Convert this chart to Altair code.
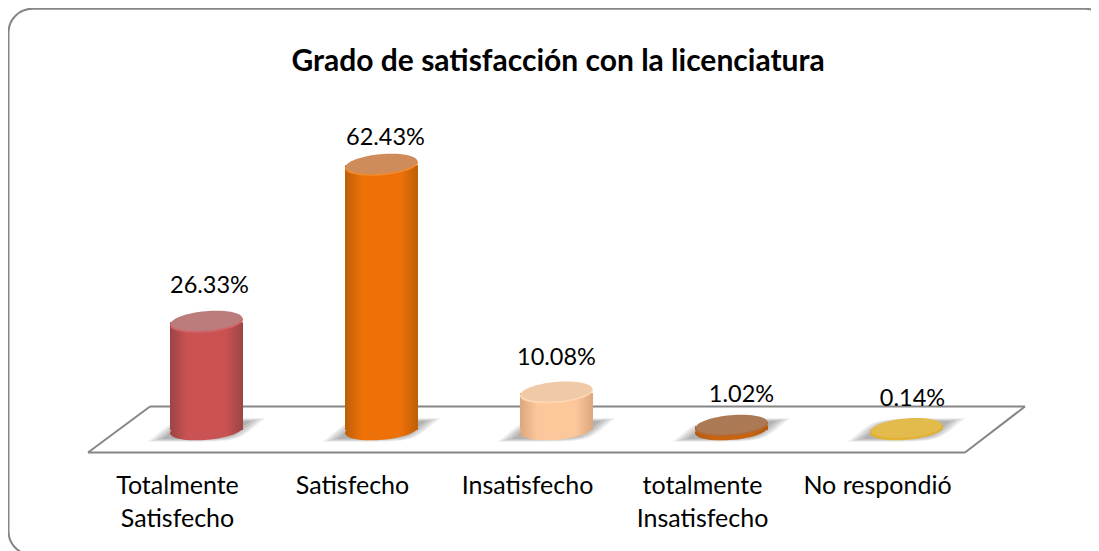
import altair as alt
import pandas as pd

categorias = ["Totalmente|Satisfecho", "Satisfecho", "Insatisfecho", "totalmente|Insatisfecho", "No respondió"]
valores = [26.33, 62.43, 10.08, 1.02, 0.14]
etiquetas = ["26.33%", "62.43%", "10.08%", "1.02%", "0.14%"]
titulo = "Grado de satisfacción con la licenciatura"

borde_cuerpo = ["#9c4444", "#bd5f08", "#dca77e", "#b05a10", "#d3a436"]
centro_cuerpo = ["#cb5252", "#ee7108", "#fcc79a", "#c8640f", "#e8bd48"]
cara = ["#bb7c7c", "#cd8c5a", "#f0caa6", "#ab7a55", "#e2bb4c"]
rim = ["#d0646a", "#f08a30", "#fdd6b4", "#b8672a", "#e0b030"]
dx_etiqueta = [3, 4, 0, 10, 6]
dy_etiqueta = [-36, -27, -35, -31, -30]

df = pd.DataFrame({"cat": categorias, "valor": valores, "etiqueta": etiquetas})

FONT = "Lato"
W, H = 1083, 543
ELIPSE = "M-1,.0875 A1,.27,-5,1,1,1,-.0875 A1,.27,-5,1,1,-1,.0875 Z"
SOMBRA = "M-1,.2 C-.85,.1,-.75,-.02,-.6,-.1 C-.4,-.2,-.2,-.2,1,-.2 C.85,-.1,.75,.02,.6,.1 C.4,.2,.2,.2,-1,.2 Z"

x = alt.X("cat:N", sort=categorias,
          scale=alt.Scale(domain=categorias, range=[111, 986], paddingInner=0, paddingOuter=0),
          axis=alt.Axis(title=None, domain=False, ticks=False, grid=False, labelAngle=0, zindex=1,
                        labelFont=FONT, labelFontSize=25, labelColor="#000000", labelLimit=300,
                        labelLineHeight=33, labelPadding=0, offset=-78, labelBaseline="top",
                        labelOffset=-29, labelExpr="split(datum.label, '|')"))
escala_y = alt.Scale(domain=[0, 10.08, 100], range=[422, 385, -6])
y = alt.Y("valor:Q", scale=escala_y, axis=None)
y0 = alt.Y("cero:Q", scale=escala_y, axis=None)

def linea(x1, y1, x2, y2):
    return alt.Chart(df.head(1)).mark_rule(color="#868686", strokeWidth=2).encode(
        x=alt.value(x1), x2=alt.value(x2), y=alt.value(y1), y2=alt.value(y2))

capas = [
    alt.Chart(df.head(1)).mark_rect(fill="white", stroke="#868686", strokeWidth=2, cornerRadius=24).encode(
        x=alt.value(0.5), x2=alt.value(1101), y=alt.value(0.7), y2=alt.value(547)),
    linea(142, 398.5, 1017, 398.5),
    linea(80, 444.5, 957, 444.5),
    linea(80, 444.5, 142, 398.5),
    linea(957, 444.5, 1017, 398.5),
]

base = alt.Chart(df).transform_calculate(cero="0")
for escala, op in [(13924, .14), (12000, .18), (10000, .22), (8000, .28)]:
    capas.append(base.mark_point(filled=True, shape=SOMBRA, size=escala, color="#808080", opacity=op, strokeWidth=0)
                 .encode(x=x, y=y0))

for i, cat in enumerate(categorias):
    g = alt.LinearGradient(gradient="linear", x1=0, x2=1, y1=0, y2=0, stops=[
        alt.GradientStop(offset=0, color=borde_cuerpo[i]),
        alt.GradientStop(offset=.24, color=centro_cuerpo[i]),
        alt.GradientStop(offset=.76, color=centro_cuerpo[i]),
        alt.GradientStop(offset=1, color=borde_cuerpo[i]),
    ])
    b = alt.Chart(df[df.cat == cat]).transform_calculate(cero="0")
    capas.append(b.mark_point(filled=True, shape=ELIPSE, size=5329, fill=g, opacity=1, strokeWidth=0).encode(x=x, y=y0))
    capas.append(b.mark_bar(size=73, fill=g).encode(x=x, y=y, y2=alt.Y2("cero:Q")))
    capas.append(b.mark_point(filled=True, shape=ELIPSE, size=5329, fill=rim[i], opacity=1, strokeWidth=0).encode(x=x, y=y))
    capas.append(b.mark_point(filled=True, shape=ELIPSE, size=5050, fill=cara[i], opacity=1, strokeWidth=0)
                 .encode(x=x, y=y, yOffset=alt.value(-1.5)))
    capas.append(b.mark_text(font=FONT, fontSize=23.5, color="#000000", dx=dx_etiqueta[i], dy=dy_etiqueta[i])
                 .encode(x=x, y=y, text="etiqueta:N"))

chart = alt.layer(*capas).properties(
    width=W, height=H, padding=0, autosize=alt.AutoSizeParams(type="none"), background="white",
    title=alt.TitleParams(titulo, font=FONT, fontSize=30, fontWeight="bold", color="#000000",
                          anchor="start", dx=284, offset=-69, orient="top"),
).configure_view(stroke=None)

chart.save("out.html", embed_options={"renderer": "svg", "actions": False})
